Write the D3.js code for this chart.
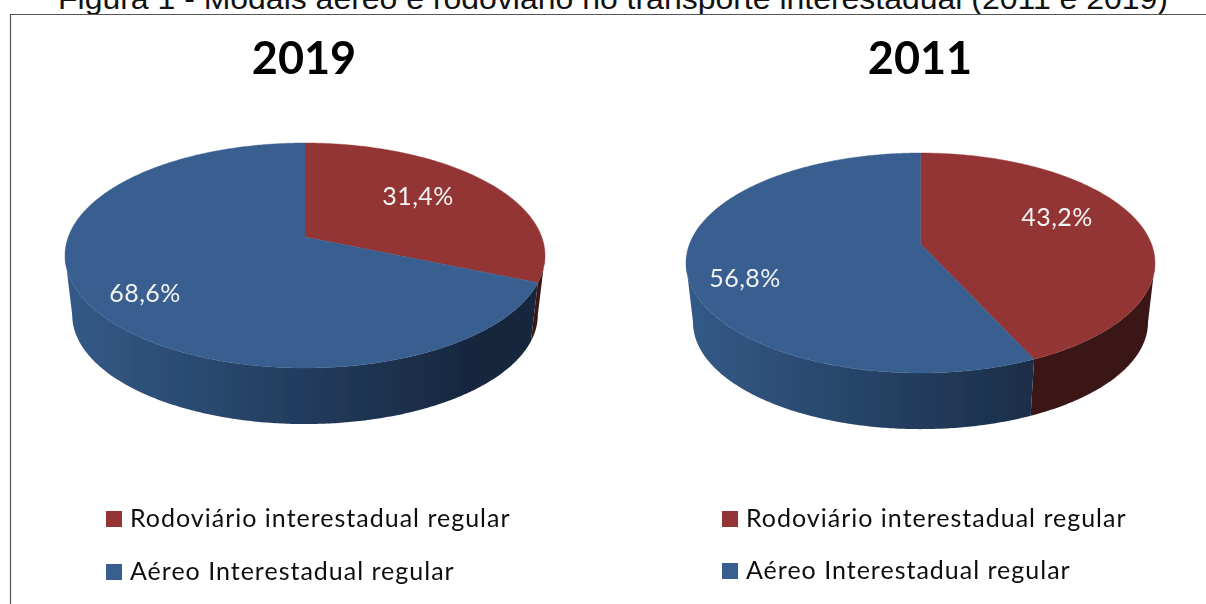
<!DOCTYPE html>
<html>
<head>
<meta charset="utf-8" />
<script src="https://cdn.jsdelivr.net/npm/d3@7"></script>
<style>
  html, body { margin: 0; padding: 0; background: #fff; overflow: hidden; }
</style>
</head>
<body>
<div id="chart"></div>
<script>
const caption = "Figura 1 - Modais aéreo e rodoviário no transporte interestadual (2011 e 2019)";
const categories = ["Rodoviário interestadual regular", "Aéreo Interestadual regular"];
const years = ["2019", "2011"];
const values2019 = [31.4, 68.6];
const values2011 = [43.2, 56.8];

const width = 1206;
const height = 604;
const topColors = ["#943634", "#375e8f"];

// layout of each pie: top face is a perspective view of a circle
const layouts = [
  {
    cx: 305, apexY: 237, rx: 240, far: 94, near: 131, depth: 60,
    titleX: 304, legendX: 106, legendY: [519, 572],
    labels: [[418, 197], [145, 294]],
  },
  {
    cx: 920.5, apexY: 244, rx: 234.5, far: 91, near: 129, depth: 60,
    titleX: 920, legendX: 722, legendY: [519, 571],
    labels: [[1057, 218], [745, 279]],
  },
];

function makeProjection({ cx, apexY, rx, far, near }) {
  const ratio = near / far;
  const k = (ratio - 1) / (ratio + 1);
  const A = near * (1 - k);
  const B = rx * Math.sqrt(1 - k * k);
  return {
    k,
    point(angle, scale = 1, dy = 0) {
      const u = Math.sin(angle);
      const v = -Math.cos(angle);
      const w = 1 - k * v;
      return [cx + (scale * B * u) / w, apexY + dy + (scale * A * v) / w];
    },
  };
}

function arcPoints(project, a0, a1, scale, dy) {
  const steps = Math.max(2, Math.ceil(Math.abs(a1 - a0) / 0.01));
  return d3.range(steps + 1).map((i) =>
    project.point(a0 + ((a1 - a0) * i) / steps, scale, dy)
  );
}

const svg = d3
  .select("#chart")
  .append("svg")
  .attr("width", width)
  .attr("height", height)
  .style("display", "block");

const defs = svg.append("defs");
defs
  .append("filter")
  .attr("id", "soft")
  .append("feGaussianBlur")
  .attr("stdDeviation", 0.6);

// legenda da figura, cortada no topo como no original
svg
  .append("text")
  .attr("x", 58)
  .attr("y", 8.5)
  .attr("textLength", 1110)
  .attr("lengthAdjust", "spacingAndGlyphs")
  .style("font-family", "'Liberation Sans'")
  .style("font-size", "29px")
  .style("fill", "#111")
  .text(caption);

svg
  .append("path")
  .attr("d", d3.line()([[1206, 14.5], [10.5, 14.5], [10.5, 604]]))
  .attr("fill", "none")
  .attr("stroke", "#555")
  .attr("stroke-width", 1.2);

const line = d3.line();
const pie = d3.pie().sort(null);

function drawPie(values, year, layout, index) {
  const g = svg.append("g").attr("filter", "url(#soft)");
  const project = makeProjection(layout);
  const slices = pie(values);
  const sideScale = 0.97;
  const depth = layout.depth;

  // side gradient runs from the left edge of the pie to the right
  const gradId = `side-${index}`;
  const grad = defs
    .append("linearGradient")
    .attr("id", gradId)
    .attr("gradientUnits", "userSpaceOnUse")
    .attr("x1", layout.cx - layout.rx)
    .attr("x2", layout.cx + layout.rx * 0.75)
    .attr("y1", 0)
    .attr("y2", 0);
  grad.append("stop").attr("offset", 0).attr("stop-color", "#345a88");
  grad.append("stop").attr("offset", 1).attr("stop-color", "#16253c");

  const sideFills = ["#3a1613", `url(#${gradId})`];
  const frontStart = Math.PI / 2 + Math.asin(project.k);
  const frontEnd = 2 * Math.PI - frontStart;

  slices.forEach((s, i) => {
    const a0 = Math.max(s.startAngle, frontStart);
    const a1 = Math.min(s.endAngle, frontEnd);
    if (a1 <= a0) return;
    const pts = [
      ...arcPoints(project, a0, a1, 1, 0),
      ...arcPoints(project, a1, a0, sideScale, depth),
    ];
    g.append("path")
      .attr("d", line(pts) + "Z")
      .attr("fill", sideFills[i]);
  });

  slices.forEach((s, i) => {
    const pts = [
      project.point(0, 0, 0),
      ...arcPoints(project, s.startAngle, s.endAngle, 1, 0),
    ];
    g.append("path")
      .attr("d", line(pts) + "Z")
      .attr("fill", topColors[i])
      .attr("stroke", topColors[i])
      .attr("stroke-width", 0.4);
  });

  g.append("text")
    .attr("x", layout.titleX)
    .attr("y", 74)
    .attr("text-anchor", "middle")
    .style("font-family", "Lato")
    .style("font-weight", 700)
    .style("font-size", "45px")
    .style("fill", "#000")
    .text(year);

  slices.forEach((s, i) => {
    g.append("text")
      .attr("x", layout.labels[i][0])
      .attr("y", layout.labels[i][1] + 8)
      .attr("text-anchor", "middle")
      .style("font-family", "Lato")
      .style("font-size", "25px")
      .style("letter-spacing", "0.5px")
      .style("fill", "#f2f2f2")
      .text(`${s.data.toFixed(1).replace(".", ",")}%`);
  });

  categories.forEach((name, i) => {
    const y = layout.legendY[i];
    g.append("rect")
      .attr("x", layout.legendX)
      .attr("y", y - 8)
      .attr("width", 16)
      .attr("height", 16)
      .attr("fill", topColors[i]);
    g.append("text")
      .attr("x", layout.legendX + 24)
      .attr("y", y + 8)
      .style("font-family", "Lato")
      .style("font-size", "25px")
      .style("letter-spacing", "1px")
      .style("fill", "#111")
      .text(name);
  });
}

drawPie(values2019, years[0], layouts[0], 0);
drawPie(values2011, years[1], layouts[1], 1);
</script>
</body>
</html>
